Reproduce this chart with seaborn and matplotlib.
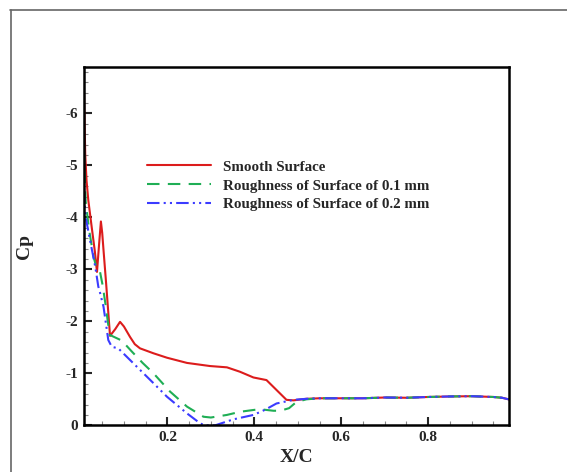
import numpy as np
import pandas as pd
import matplotlib
matplotlib.use("Agg")
import matplotlib.pyplot as plt
from matplotlib.lines import Line2D
from matplotlib.ticker import MultipleLocator
import seaborn as sns

# ---------------- data ----------------
tail_x = [0.55, 0.60, 0.65, 0.70, 0.75, 0.80, 0.85, 0.90, 0.95, 0.97, 0.99]
tail_y = [-0.52, -0.52, -0.52, -0.535, -0.53, -0.545, -0.555, -0.56, -0.545, -0.53, -0.49]

smooth_x = [0.007, 0.009, 0.011, 0.014, 0.018, 0.026, 0.033, 0.038, 0.043, 0.047,
            0.050, 0.053, 0.059, 0.068, 0.080, 0.091, 0.100, 0.114, 0.125, 0.137,
            0.168, 0.199, 0.245, 0.298, 0.337, 0.367, 0.398, 0.428, 0.451, 0.474,
            0.490, 0.520]
smooth_y = [-6.90, -6.0, -5.2, -4.7, -4.33, -3.8, -3.35, -2.95, -3.5, -3.92,
            -3.7, -3.37, -2.73, -1.72, -1.85, -1.99, -1.90, -1.70, -1.56, -1.48,
            -1.385, -1.30, -1.20, -1.14, -1.115, -1.03, -0.92, -0.87, -0.68, -0.49,
            -0.48, -0.51]

rough1_x = [0.007, 0.009, 0.012, 0.020, 0.030, 0.038, 0.045, 0.0515, 0.058, 0.067,
            0.095, 0.118, 0.143, 0.168, 0.206, 0.245, 0.283, 0.300, 0.337, 0.367,
            0.398, 0.413, 0.444, 0.460, 0.480, 0.497, 0.520]
rough1_y = [-5.7, -5.0, -4.3, -3.75, -3.24, -3.0, -2.95, -2.67, -2.3, -1.74,
            -1.63, -1.42, -1.20, -1.00, -0.65, -0.36, -0.165, -0.15, -0.20, -0.26,
            -0.295, -0.31, -0.28, -0.28, -0.33, -0.45, -0.50]

rough2_x = [0.007, 0.0085, 0.012, 0.022, 0.034, 0.041, 0.045, 0.053, 0.064, 0.072,
            0.087, 0.122, 0.168, 0.199, 0.245, 0.275, 0.285, 0.310, 0.352, 0.398,
            0.425, 0.451, 0.490, 0.520]
rough2_y = [-5.1, -4.4, -4.0, -3.56, -3.05, -2.67, -2.55, -2.28, -1.64, -1.51,
            -1.48, -1.19, -0.81, -0.55, -0.23, -0.04, 0.0, 0.0, -0.115, -0.20,
            -0.30, -0.42, -0.49, -0.51]

labels = ["Smooth Surface", "Roughness of Surface of 0.1 mm", "Roughness of Surface of 0.2 mm"]
colors = ["#dc1c1c", "#1fae55", "#3b3bff"]
xtick_vals = [0.2, 0.4, 0.6, 0.8]
xtick_labels = ["0.2", "0.4", "0.6", "0.8"]
ytick_vals = [0, -1, -2, -3, -4, -5, -6]
ytick_labels = ["0", "-1", "-2", "-3", "-4", "-5", "-6"]

# ---------------- figure ----------------
sns.set_style("white")
plt.rcParams["font.family"] = ["Liberation Serif", "DejaVu Serif"]
plt.rcParams["font.weight"] = "bold"
plt.rcParams["axes.unicode_minus"] = False

fig = plt.figure(figsize=(5.67, 4.72), dpi=100)
ax = fig.add_axes([0.1473, 0.0989, 0.7504, 0.7591])

frames = [
    pd.DataFrame({"x": smooth_x + tail_x, "y": smooth_y + tail_y}),
    pd.DataFrame({"x": rough1_x + tail_x, "y": rough1_y + tail_y}),
    pd.DataFrame({"x": rough2_x + tail_x, "y": rough2_y + tail_y}),
]
styles = [None, (6, 4), (6, 2, 1, 2, 1, 2)]

for df, lab, col, dash in zip(frames, labels, colors, styles):
    sns.lineplot(x="x", y="y", data=df, ax=ax, color=col, label=lab,
                 sort=False, estimator=None, linewidth=1.5)
    line = ax.get_lines()[-1]
    if dash is not None:
        line.set_dashes(dash)

ax.set_xlim(0.007, 0.986)
ax.set_ylim(0, -6.89)

ax.set_xticks(xtick_vals)
ax.set_xticklabels(xtick_labels)
ax.set_yticks(ytick_vals)
ax.set_yticklabels(ytick_labels)
ax.xaxis.set_minor_locator(MultipleLocator(0.05))
ax.yaxis.set_minor_locator(MultipleLocator(0.2))

ax.tick_params(axis="both", which="major", direction="in", length=6, width=1.5,
               labelsize=11, pad=4, top=False, right=False, bottom=True, left=True)
ax.tick_params(axis="both", which="minor", direction="in", length=3, width=0.8,
               top=False, right=False, bottom=True, left=True, color="#888888")
for t in ax.get_xticklabels() + ax.get_yticklabels():
    t.set_fontweight("bold")

for s in ax.spines.values():
    s.set_linewidth(1.8)
    s.set_color("black")

ax.set_xlabel("X/C", fontsize=14, fontweight="bold", labelpad=4)
ax.set_ylabel("Cp", fontsize=14, fontweight="bold", labelpad=23)

leg = ax.legend(loc="upper left", bbox_to_anchor=(0.149, 0.74), frameon=False,
                handlelength=4.3, handletextpad=0.75, labelspacing=0.36,
                borderaxespad=0, borderpad=0, prop={"weight": "bold", "size": 10.8})

# screenshot-like frame
fig.add_artist(Line2D([10 / 567, 1], [1 - 9.5 / 472, 1 - 9.5 / 472],
                      transform=fig.transFigure, color="#666666", linewidth=1.2))
fig.add_artist(Line2D([10.5 / 567, 10.5 / 567], [0, 1 - 9.5 / 472],
                      transform=fig.transFigure, color="#666666", linewidth=1.2))

fig.savefig("out.png", dpi=100)
